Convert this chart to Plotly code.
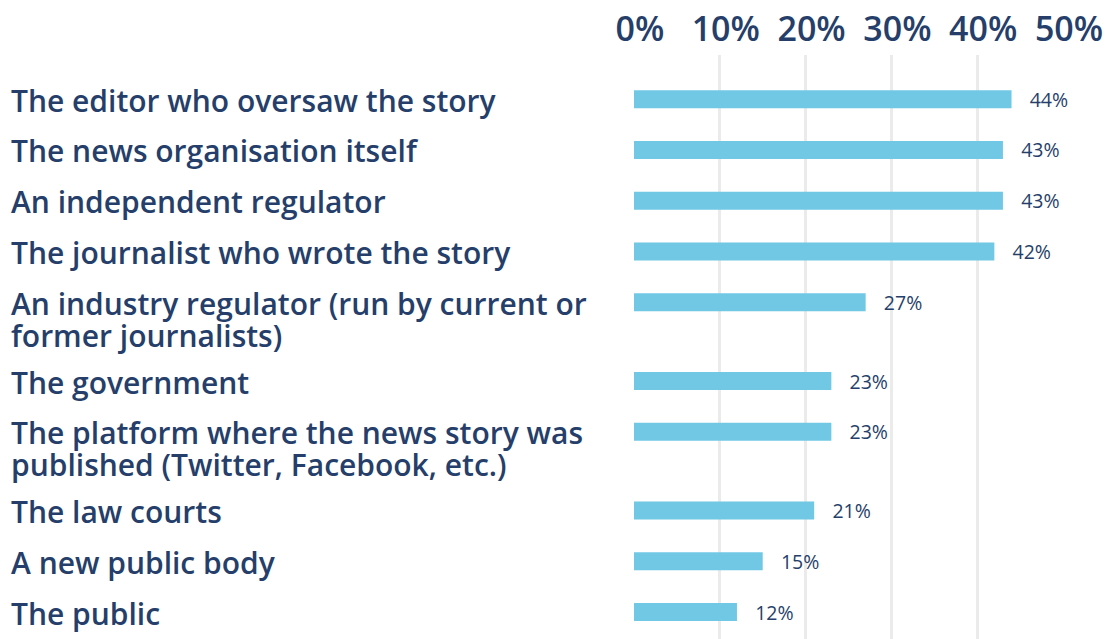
import plotly.graph_objects as go

categories = [
    "The editor who oversaw the story",
    "The news organisation itself",
    "An independent regulator",
    "The journalist who wrote the story",
    "An industry regulator (run by current or<br>former journalists)",
    "The government",
    "The platform where the news story was<br>published (Twitter, Facebook, etc.)",
    "The law courts",
    "A new public body",
    "The public",
]
values = [44, 43, 43, 42, 27, 23, 23, 21, 15, 12]
tick_vals = [0, 10, 20, 30, 40, 50]
tick_text = ["0%", "10%", "20%", "30%", "40%", "50%"]

NAVY = "#263F6A"
BAR = "#70C8E4"

# row positions: one unit per row, extra room after a wrapped (two-line) label
rows = []
pos = 0.0
prev_extra = 0
for cat in categories:
    pos += 0 if not rows else 1 + 0.55 * prev_extra
    rows.append(pos)
    prev_extra = cat.count("<br>")

fig = go.Figure(
    go.Bar(
        y=rows,
        x=values,
        orientation="h",
        width=0.355,
        marker=dict(color=BAR, line=dict(width=0)),
        texttemplate="   %{x}%",
        textposition="outside",
        constraintext="none",
        textfont=dict(family="Open Sans", size=19.5, color=NAVY),
        cliponaxis=False,
        hoverinfo="skip",
    )
)

LINE_GAP = 32
annotations = []
for cat, yv in zip(categories, rows):
    for i, line in enumerate(cat.split("<br>")):
        annotations.append(
            dict(
                x=-1.458,
                xref="paper",
                y=yv,
                yref="y",
                text=line,
                showarrow=False,
                xanchor="left",
                yanchor="middle",
                yshift=-LINE_GAP * i - 1,
                align="left",
                font=dict(family="Open Sans", size=30, color=NAVY, weight=600),
            )
        )

fig.update_layout(
    width=1111,
    height=639,
    margin=dict(l=626, r=56, t=47, b=8, autoexpand=False),
    plot_bgcolor="white",
    paper_bgcolor="white",
    showlegend=False,
    annotations=annotations,
    xaxis=dict(
        side="top",
        range=[0, 50],
        tickvals=tick_vals,
        ticktext=tick_text,
        showgrid=True,
        gridcolor="#EBEBEB",
        gridwidth=3,
        zeroline=False,
        showline=False,
        ticks="",
        automargin=False,
        ticklabelstandoff=6,
        ticklabelshift=6,
        tickfont=dict(family="Open Sans", size=34, color=NAVY, weight=600),
    ),
    yaxis=dict(
        range=[rows[-1] + 0.53, -0.87],
        showticklabels=False,
        showgrid=False,
        zeroline=False,
        ticks="",
        automargin=False,
    ),
)

fig.write_html("out.html")
